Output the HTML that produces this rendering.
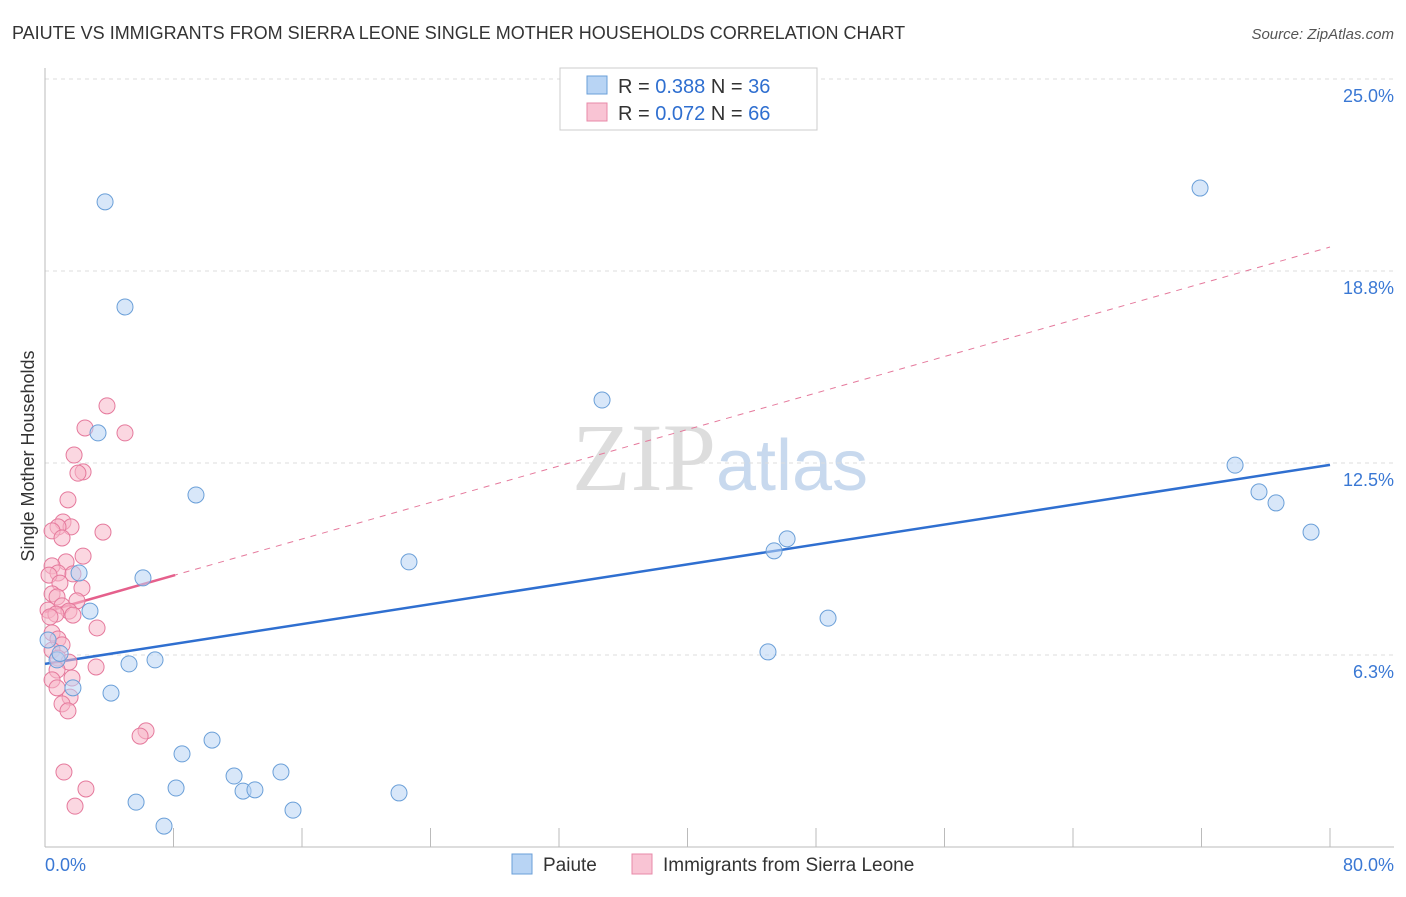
<!DOCTYPE html>
<html><head><meta charset="utf-8"><style>
body{margin:0;background:#fff;font-family:"Liberation Sans",sans-serif}
</style></head><body>
<svg id="chart" width="1406" height="892" xmlns="http://www.w3.org/2000/svg" font-family="Liberation Sans, sans-serif">
<text x="12" y="39" font-size="18" fill="#333">PAIUTE VS IMMIGRANTS FROM SIERRA LEONE SINGLE MOTHER HOUSEHOLDS CORRELATION CHART</text>
<text x="1394" y="39" font-size="15" fill="#555" text-anchor="end" font-style="italic">Source: ZipAtlas.com</text>
<text x="720" y="490" font-size="96" text-anchor="middle" fill="#ddd" font-family="Liberation Serif, serif">ZIP<tspan fill="#c8d9ee" font-family="Liberation Sans, sans-serif" font-size="72">atlas</tspan></text>
<text transform="translate(34,456) rotate(-90)" font-size="18" fill="#333" text-anchor="middle">Single Mother Households</text>
<g id="grid"></g><g id="axes"></g><g id="lines"></g><g id="pts"></g>
<g>
<rect x="560" y="68" width="257" height="62" fill="#fff" stroke="#ccc"/>
<rect x="587" y="76" width="20" height="18" fill="#b8d4f4" stroke="#6a9fd8"/>
<text x="618" y="93" font-size="20" fill="#333">R = <tspan fill="#2f6fd0">0.388</tspan>   N = <tspan fill="#2f6fd0">36</tspan></text>
<rect x="587" y="103" width="20" height="18" fill="#f9c4d4" stroke="#e88aa8"/>
<text x="618" y="120" font-size="20" fill="#333">R = <tspan fill="#2f6fd0">0.072</tspan>   N = <tspan fill="#2f6fd0">66</tspan></text>
</g>
<g>
<rect x="512" y="854" width="20" height="20" fill="#b8d4f4" stroke="#6a9fd8"/>
<text x="543" y="871" font-size="19" fill="#333">Paiute</text>
<rect x="632" y="854" width="20" height="20" fill="#f9c4d4" stroke="#e88aa8"/>
<text x="663" y="871" font-size="19" fill="#333">Immigrants from Sierra Leone</text>
</g>
</svg>
<script>
const yTicks=[25,18.75,12.5,6.25];
const yTickLabels=["25.0%","18.8%","12.5%","6.3%"];
const xTicks=[0,8,16,24,32,40,48,56,64,72,80];
const paiuteX=[3.74,4.98,3.30,9.40,34.68,71.91,74.09,75.58,76.64,78.82,46.20,45.39,48.75,45.01,22.66,6.10,2.12,2.80,0.75,5.23,6.85,1.74,4.11,8.53,10.40,11.77,12.33,13.07,14.69,15.44,8.16,5.67,7.41,22.04,0.19,0.94];
const paiuteY=[21.0,17.58,13.48,11.46,14.55,21.45,12.43,11.56,11.20,10.25,10.03,9.64,7.45,6.35,9.28,8.76,8.92,7.68,6.09,5.96,6.09,5.18,5.01,3.03,3.48,2.31,1.82,1.86,2.44,1.20,1.92,1.46,0.68,1.76,6.74,6.3];
const sierraX=[3.86,4.98,2.49,1.81,2.37,2.05,1.43,1.12,1.62,0.81,0.44,3.61,1.06,2.37,1.31,0.44,0.81,1.74,0.25,0.93,2.30,0.44,0.75,1.99,1.06,0.19,1.49,0.68,1.74,0.31,3.24,0.44,0.81,1.06,0.44,0.81,1.49,3.18,0.75,1.68,0.44,0.75,1.56,1.06,1.43,6.29,5.92,1.18,2.55,1.87];
const sierraY=[14.36,13.48,13.64,12.76,12.21,12.17,11.30,10.58,10.42,10.42,10.29,10.25,10.06,9.47,9.28,9.15,8.92,8.89,8.85,8.59,8.43,8.24,8.14,8.01,7.85,7.71,7.68,7.58,7.55,7.49,7.13,6.97,6.77,6.58,6.41,6.15,6.02,5.86,5.76,5.50,5.44,5.18,4.88,4.66,4.43,3.78,3.61,2.44,1.89,1.33];
const blueFit=[5.96,12.44];
const pinkFit=[7.65,19.53];
const xs=v=>45+v/80*1285, ys=v=>847-v*30.72;
const NS="http://www.w3.org/2000/svg";
function mk(t,a,p){const e=document.createElementNS(NS,t);for(const k in a)e.setAttribute(k,a[k]);p.appendChild(e);return e;}
const grid=document.getElementById('grid'),axes=document.getElementById('axes'),lines=document.getElementById('lines'),pts=document.getElementById('pts');
yTicks.forEach((v,i)=>{
const l=mk('line',{x1:45,x2:1394,y1:ys(v),y2:ys(v),stroke:'#ddd','stroke-dasharray':'4,4'},grid);


const t=mk('text',{x:1394,y:ys(v)+23,'font-size':18,fill:'#3a78d4','text-anchor':'end'},axes);
t.textContent=yTickLabels[i];


});
const ax=mk('line',{x1:45,x2:1394,y1:847,y2:847,stroke:'#bbb'},axes);


const ay=mk('line',{x1:45,x2:45,y1:68,y2:847,stroke:'#bbb'},axes);


xTicks.forEach(v=>{const t=mk('line',{x1:xs(v),x2:xs(v),y1:828,y2:847,stroke:'#bbb'},axes);

});
[[0,"0.0%","start",45],[80,"80.0%","end",1394]].forEach(d=>{const t=mk('text',{x:d[3],y:871,'font-size':18,fill:'#3a78d4','text-anchor':d[2]},axes);t.textContent=d[1];

});
function drawPts(X,Y,fill,stroke,name){X.forEach((x,i)=>{const c=mk('circle',{cx:xs(x),cy:ys(Y[i]),r:8,fill:fill,'fill-opacity':0.55,stroke:stroke,'stroke-width':1},pts);

});}
drawPts(sierraX,sierraY,'#f7b6c9','#e5799c','sierra-leone-point');
drawPts(paiuteX,paiuteY,'#b8d4f4','#6a9fd8','paiute-point');
const pd=mk('line',{x1:xs(0),y1:ys(pinkFit[0]),x2:xs(80),y2:ys(pinkFit[1]),stroke:'#e5799c','stroke-dasharray':'6,6','stroke-width':1},lines);


const ps=mk('line',{x1:xs(0),y1:ys(pinkFit[0]),x2:xs(8.1),y2:ys(pinkFit[0]+(pinkFit[1]-pinkFit[0])*8.1/80),stroke:'#e5608c','stroke-width':2.5},lines);


const bl=mk('line',{x1:xs(0),y1:ys(blueFit[0]),x2:xs(80),y2:ys(blueFit[1]),stroke:'#2f6fd0','stroke-width':2.5},lines);


</script>
</body></html>
